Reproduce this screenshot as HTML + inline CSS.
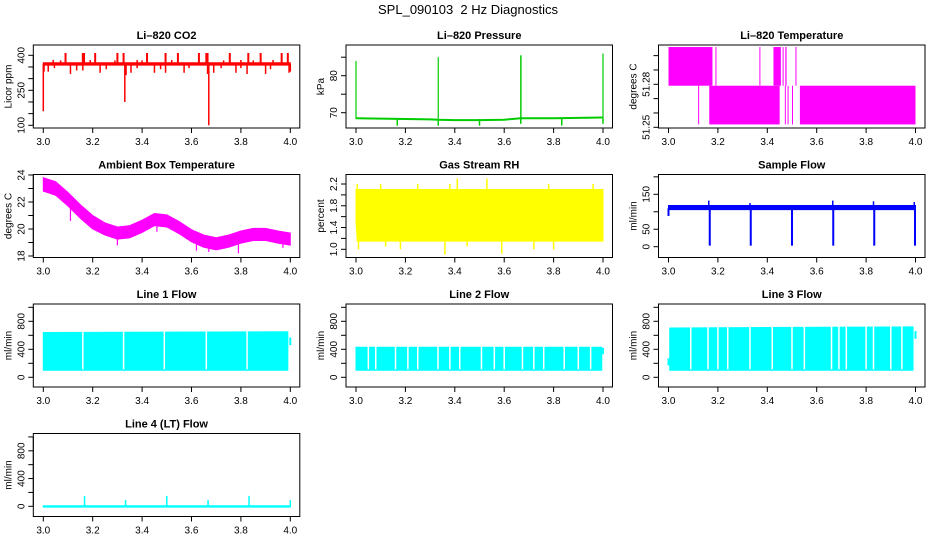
<!DOCTYPE html>
<html><head><meta charset="utf-8"><style>
body{margin:0;background:#fff}
svg{display:block;font-family:"Liberation Sans",Arial,sans-serif}
</style></head><body>
<svg id="c" width="936" height="540">
<text x="468" y="14" text-anchor="middle" font-size="13" style="white-space:pre">SPL_090103  2 Hz Diagnostics</text>
</svg>
<script>
// ---- data ----
const xTicks=[3.0,3.2,3.4,3.6,3.8,4.0];
const xTickLabels=["3.0","3.2","3.4","3.6","3.8","4.0"];
// CO2
const co2BandT=[3.0,4.0], co2BandLo=[358,358], co2BandHi=[368,368];
const co2UpT=[3.09,3.16,3.165,3.21,3.30,3.325,3.42,3.495,3.545,3.63,3.66,3.665,3.755,3.83,3.88,3.965,3.99];
const co2UpV=[410,410,410,410,410,410,410,410,410,410,410,410,410,410,410,410,410];
const co2SmallT=[3.04,3.07,3.19,3.29,3.38,3.40,3.52,3.73,3.80,3.85,3.93];
const co2SmallV=[380,378,380,378,380,378,380,378,380,378,380];
const co2DownT=[3.0,3.003,3.02,3.045,3.11,3.135,3.16,3.23,3.255,3.33,3.335,3.355,3.38,3.45,3.475,3.495,3.57,3.59,3.665,3.67,3.69,3.72,3.78,3.80,3.825,3.90,3.92,3.995,4.0];
const co2DownV=[160,330,330,345,320,335,335,325,340,200,315,325,345,325,340,325,325,345,320,100,325,345,325,345,320,320,340,325,330];
const co2Ticks=[100,150,200,250,300,350,400], co2Labels=["100","","","250","","","400"];
// Pressure
const pT=[3.0,3.1,3.2,3.3,3.333,3.4,3.5,3.6,3.667,3.7,3.8,3.9,4.0];
const pV=[68.5,68.4,68.3,68.2,68.1,68.0,68.0,68.1,68.5,68.5,68.5,68.6,68.7];
const pUpT=[3.0,3.333,3.667,3.668,4.0], pUpV=[84,85,85.5,85.5,86];
const pDipT=[3.167,3.333,3.5,3.667,3.833,4.0], pDipV=[66.5,66.5,66.5,67,66.5,67];
const pTicks=[70,75,80,85], pLabels=["70","","80",""];
// Li-820 temperature blocks
const ltX0=[3.0,3.19,3.368,3.425,3.462,3.473,3.514,3.12,3.165,3.471,3.482,3.5,3.532];
const ltX1=[3.178,3.193,3.371,3.455,3.465,3.478,3.517,3.123,3.45,3.474,3.485,3.503,4.0];
const ltLo=[51.279,51.279,51.279,51.279,51.279,51.279,51.279,51.252,51.252,51.252,51.252,51.252,51.252];
const ltHi=[51.306,51.306,51.306,51.306,51.306,51.306,51.306,51.279,51.279,51.279,51.279,51.279,51.279];
const ltTicks=[51.25,51.26,51.27,51.28,51.29,51.30], ltLabels=["51.25","","","51.28","",""];
// Ambient
const aT=[3.0,3.05,3.1,3.15,3.2,3.25,3.3,3.35,3.4,3.45,3.5,3.55,3.6,3.65,3.7,3.75,3.8,3.85,3.9,3.95,4.0];
const aHi=[23.8,23.5,22.7,21.8,21.0,20.45,20.15,20.25,20.65,21.15,21.05,20.55,19.95,19.55,19.35,19.55,19.85,20.05,20.05,19.85,19.7];
const aLo=[22.8,22.5,21.7,20.8,20.0,19.55,19.25,19.35,19.75,20.25,20.15,19.65,19.05,18.65,18.45,18.65,18.95,19.15,19.15,18.95,18.8];
const aDipT=[3.11,3.3,3.46,3.62,3.67,3.79,3.97], aDipV=[20.6,18.8,19.8,18.4,18.3,18.2,18.6];
const aTicks=[18,19,20,21,22,23,24], aLabels=["18","","20","","22","","24"];
// RH
const rhT=[3.0,3.005,4.0], rhLo=[1.5,1.15,1.15], rhHi=[2.1,2.1,2.1];
const rhUpT=[3.41,3.53,3.1,3.25,3.38,3.78,3.96,3.005], rhUpV=[2.3,2.3,2.2,2.2,2.2,2.2,2.2,2.2];
const rhDnT=[3.36,3.59,3.01,3.18,3.72,3.8,3.12,3.45], rhDnV=[0.9,0.92,1.0,1.0,1.0,1.0,1.05,1.05];
const rhTicks=[1.0,1.2,1.4,1.6,1.8,2.0,2.2], rhLabels=["1.0","","1.4","","1.8","","2.2"];
// Sample flow
const sT=[3.0,4.0], sLo=[106,106], sHi=[118,118];
const sDipT=[3.0,3.167,3.333,3.5,3.667,3.833,3.998], sDipV=[88,3,3,3,3,3,3];
const sUpT=[3.163,3.665,3.83,3.33,3.995], sUpV=[132,132,130,125,128];
const sTicks=[0,50,100,150,200], sLabels=["0","50","","150",""];
// Line flows
const fTicks=[0,200,400,600,800,1000], fLabels=["0","","400","","800",""];
const l1T=[3.0,3.99], l1Lo=[100,100], l1Hi=[640,650];
const l1Gaps=[3.16,3.325,3.49,3.66,3.825];
const l1EndT=[4.0], l1EndLo=[460], l1EndHi=[570];
const l2T=[3.0,3.995], l2Lo=[100,100], l2Hi=[430,430];
const l2Gaps=[3.05,3.08,3.16,3.21,3.25,3.332,3.38,3.42,3.508,3.56,3.6,3.674,3.72,3.76,3.843,3.9,3.95];
const l2EndT=[4.0], l2EndLo=[330], l2EndHi=[420];
const l3T=[3.005,3.99], l3Lo=[100,100], l3Hi=[705,720];
const l3Gaps=[3.09,3.16,3.2,3.24,3.33,3.42,3.5,3.55,3.66,3.69,3.72,3.8,3.83,3.9,3.945];
const l3EndT=[3.0,4.0], l3EndLo=[170,550], l3EndHi=[270,660];
const l4T=[3.0,4.0], l4Lo=[-12,-12], l4Hi=[8,8];
const l4SpT=[3.167,3.333,3.5,3.667,3.833,4.0], l4SpV=[150,90,150,90,150,90];

// ---- drawing ----
const svg=document.getElementById('c');
const NS='http://www.w3.org/2000/svg';
function mk(tag,at,parent){const e=document.createElementNS(NS,tag);for(const k in at)e.setAttribute(k,at[k]);(parent||svg).appendChild(e);return e;}
const colL=[33.3,346,658.5], rowT=[45,174.5,304,433.5], W=266.5, H=83;

function panel(name,title,ylab,col,row,cal,yt,yl){
  const L=colL[col],T=rowT[row];
  const g=mk('g',{});
  
  
  const xs=v=>L+10+(v-3.0)*247;
  const k=(cal[3]-cal[1])/(cal[2]-cal[0]);
  const ys=v=>T+cal[1]+(v-cal[0])*k;
  const t=mk('text',{x:L+W/2,y:T-6,'text-anchor':'middle','font-size':11,'font-weight':'bold'},g);
  t.textContent=title;
  
  
  const box=mk('rect',{x:L,y:T,width:W,height:H,fill:'none',stroke:'#000','stroke-width':1},g);
  
  
  const ax=mk('g',{},g);
  
  
  mk('line',{x1:xs(3.0),x2:xs(4.0),y1:T+H,y2:T+H,stroke:'#000'},ax);
  xTicks.forEach((v,i)=>{
    mk('line',{x1:xs(v),x2:xs(v),y1:T+H,y2:T+H+5,stroke:'#000'},ax);
    const tx=mk('text',{x:xs(v),y:T+H+17,'text-anchor':'middle','font-size':10},ax);
    tx.textContent=xTickLabels[i];
  });
  const ay=mk('g',{},g);
  
  
  mk('line',{x1:L,x2:L,y1:ys(yt[0]),y2:ys(yt[yt.length-1]),stroke:'#000'},ay);
  yt.forEach((v,i)=>{
    mk('line',{x1:L-5,x2:L,y1:ys(v),y2:ys(v),stroke:'#000'},ay);
    if(yl[i]){const tx=mk('text',{x:0,y:0,'text-anchor':'middle','font-size':10,transform:`translate(${L-9},${ys(v)}) rotate(-90)`},ay);tx.textContent=yl[i];}
  });
  const lt=mk('text',{x:0,y:0,'text-anchor':'middle','font-size':10,transform:`translate(${L-22},${T+H/2}) rotate(-90)`},g);
  lt.textContent=ylab;
  
  
  const cp='clip'+name;
  const cl=mk('clipPath',{id:cp},g);mk('rect',{x:L,y:T,width:W,height:H},cl);
  const d=mk('g',{'clip-path':`url(#${cp})`},g);
  
  
  return {xs,ys,d};
}
function band(p,t,lo,hi,c){
  let pts=t.map((v,i)=>p.xs(v)+','+p.ys(hi[i])).concat(t.map((v,i)=>p.xs(v)+','+p.ys(lo[i])).reverse());
  const e=mk('polygon',{points:pts.join(' '),fill:c,stroke:c,'stroke-width':1},p.d);
  
  
}
function spikes(p,t,v,base,c,w){
  t.forEach((x,i)=>{
    const b=Array.isArray(base)?base[i]:base;
    const e=mk('line',{x1:p.xs(x),x2:p.xs(x),y1:p.ys(b),y2:p.ys(v[i]),stroke:c,'stroke-width':w||1.5},p.d);
    
    
  });
}
function line(p,t,v,c,w){
  const e=mk('polyline',{points:t.map((x,i)=>p.xs(x)+','+p.ys(v[i])).join(' '),fill:'none',stroke:c,'stroke-width':w},p.d);
  
  
}
const RED='#ff0000',GRN='#00cc00',MAG='#ff00ff',YEL='#ffff00',BLU='#0000ff',CYA='#00ffff';

let p=panel('co2','Li\u2013820 CO2','Licor ppm',0,0,[400,10.3,100,80.3],co2Ticks,co2Labels);
band(p,co2BandT,co2BandLo,co2BandHi,RED);
spikes(p,co2UpT,co2UpV,363,RED,2);spikes(p,co2SmallT,co2SmallV,363,RED,1.5);spikes(p,co2DownT,co2DownV,363,RED,1.5);

p=panel('pressure','Li\u2013820 Pressure','kPa',1,0,[80,30.7,70,67.7],pTicks,pLabels);
line(p,pT,pV,GRN,2);spikes(p,pUpT,pUpV,68.3,GRN,1.2);spikes(p,pDipT,pDipV,68.3,GRN,1.5);

p=panel('li820-temp','Li\u2013820 Temperature','degrees C',2,0,[51.28,39.3,51.25,82.3],ltTicks,ltLabels);
ltX0.forEach((x,i)=>{const e=mk('rect',{x:p.xs(x),y:p.ys(ltHi[i]),width:Math.max(1,p.xs(ltX1[i])-p.xs(x)),height:p.ys(ltLo[i])-p.ys(ltHi[i]),fill:MAG},p.d);
  
  });

p=panel('ambient','Ambient Box Temperature','degrees C',0,1,[24,0.5,18,81.5],aTicks,aLabels);
band(p,aT,aLo,aHi,MAG);spikes(p,aDipT,aDipV,aDipT.map((x)=>{let j=Math.min(aT.length-1,Math.round((x-3)/0.05));return aLo[j];}),MAG,1.2);

p=panel('rh','Gas Stream RH','percent',1,1,[2.2,9.5,1.0,74.8],rhTicks,rhLabels);
band(p,rhT,rhLo,rhHi,YEL);spikes(p,rhUpT,rhUpV,2.0,YEL,1.5);spikes(p,rhDnT,rhDnV,1.3,YEL,1.5);

p=panel('sample-flow','Sample Flow','ml/min',2,1,[150,19.8,0,72.2],sTicks,sLabels);
band(p,sT,sLo,sHi,BLU);spikes(p,sDipT,sDipV,110,BLU,2);spikes(p,sUpT,sUpV,112,BLU,1.5);

const fc=[800,17.3,0,73.3];
function flowPanel(name,title,col,row,t,lo,hi,gaps,et,elo,ehi){
  const q=panel(name,title,'ml/min',col,row,fc,fTicks,fLabels);
  band(q,t,lo,hi,CYA);
  gaps.forEach(g=>{const e=mk('line',{x1:q.xs(g),x2:q.xs(g),y1:q.ys(hi[0]+20),y2:q.ys(lo[0]+15),stroke:'#fff','stroke-width':1.5},q.d);
    
    });
  spikes(q,et,ehi,elo,CYA,2);
  return q;
}
flowPanel('line1-flow','Line 1 Flow',0,2,l1T,l1Lo,l1Hi,l1Gaps,l1EndT,l1EndLo,l1EndHi);
flowPanel('line2-flow','Line 2 Flow',1,2,l2T,l2Lo,l2Hi,l2Gaps,l2EndT,l2EndLo,l2EndHi);
flowPanel('line3-flow','Line 3 Flow',2,2,l3T,l3Lo,l3Hi,l3Gaps,l3EndT,l3EndLo,l3EndHi);
p=panel('line4-flow','Line 4 (LT) Flow','ml/min',0,3,[800,17.3,0,72.8],fTicks,fLabels);
band(p,l4T,l4Lo,l4Hi,CYA);spikes(p,l4SpT,l4SpV,0,CYA,1.5);
</script>
</body></html>
